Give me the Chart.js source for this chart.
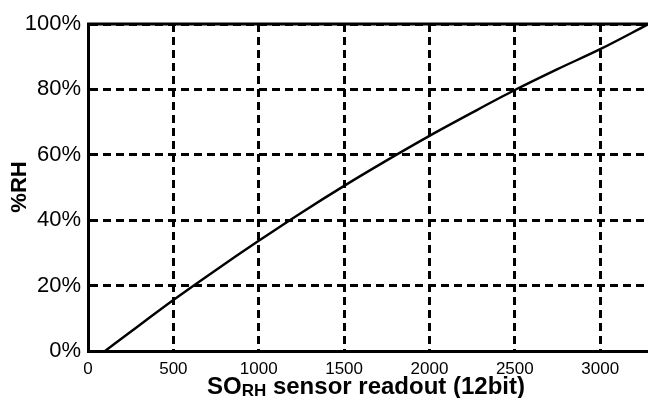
<!DOCTYPE html>
<html>
<head>
<meta charset="utf-8">
<script src="https://cdn.jsdelivr.net/npm/chart.js@4/dist/chart.umd.min.js"></script>
<style>
  html, body { margin: 0; padding: 0; background: #fff; }
  #wrap { width: 648px; height: 398px; }
</style>
</head>
<body>
<div id="wrap"><canvas id="rhchart"></canvas></div>
<script>
// readings taken off the curve (sensor readout -> %RH)
var readout = [100, 250, 500, 750, 1000, 1250, 1500, 1750, 2000, 2250, 2500, 2750, 3000, 3280];
var humidity = [0, 5.9, 15.6, 24.8, 33.7, 42.3, 50.5, 58.3, 65.8, 72.9, 79.8, 86.2, 92.3, 99.9];
var xTicks = [0, 500, 1000, 1500, 2000, 2500, 3000];
var yTicks = [0, 20, 40, 60, 80, 100];

var points = readout.map(function (v, i) { return { x: v, y: humidity[i] }; });

// titles drawn by hand so SO can carry the RH subscript
var titlePlugin = {
    id: 'titles',
    afterDraw: function (chart) {
        var ctx = chart.ctx;
        var area = chart.chartArea;
        ctx.save();
        ctx.fillStyle = '#000';
        ctx.strokeStyle = '#000';
        ctx.lineWidth = 3;
        ctx.beginPath();
        ctx.moveTo(area.left - 1, area.top);
        ctx.lineTo(area.right, area.top);
        ctx.stroke();

        var big = 'bold 24px Arial, "Liberation Sans", sans-serif';
        var small = 'bold 17px Arial, "Liberation Sans", sans-serif';
        var parts = [['SO', big, 0], ['RH', small, 2], [' sensor readout (12bit)', big, 0]];
        var total = 0;
        parts.forEach(function (p) { ctx.font = p[1]; total += ctx.measureText(p[0]).width; });
        var x = 366 - total / 2;
        var base = 394;
        ctx.textBaseline = 'alphabetic';
        parts.forEach(function (p) {
            ctx.font = p[1];
            ctx.fillText(p[0], x, base + p[2]);
            x += ctx.measureText(p[0]).width;
        });

        ctx.translate(20, 187);
        ctx.rotate(-Math.PI / 2);
        ctx.font = 'bold 22px Arial, "Liberation Sans", sans-serif';
        ctx.textAlign = 'center';
        ctx.textBaseline = 'middle';
        ctx.fillText('%RH', 0, 0);
        ctx.restore();
    }
};

var ctx = document.getElementById('rhchart').getContext('2d');
var rhchart = new Chart(ctx, {
    type: 'scatter',
    data: {
        datasets: [{
            data: points,
            showLine: true,
            borderColor: '#000',
            borderWidth: 2.4,
            pointRadius: 0,
            cubicInterpolationMode: 'monotone'
        }]
    },
    options: {
        responsive: true,
        maintainAspectRatio: false,
        animation: false,
        layout: { padding: { top: 24, right: 0, left: 0, bottom: 0 } },
        plugins: { legend: { display: false }, tooltip: { enabled: false } },
        scales: {
            x: {
                type: 'linear',
                min: 0,
                max: 3280,
                afterFit: function (s) { s.height = 47; },
                afterBuildTicks: function (s) { s.ticks = xTicks.map(function (v) { return { value: v }; }); },
                ticks: {
                    includeBounds: false,
                    color: '#000',
                    padding: 8,
                    maxRotation: 0,
                    font: { family: 'Arial, "Liberation Sans", sans-serif', size: 17 },
                    callback: function (v) { return String(v); }
                },
                grid: { color: '#000', lineWidth: 3, drawTicks: false },
                border: { color: '#000', width: 3, dash: [8, 5] }
            },
            y: {
                min: 0,
                max: 100,
                afterFit: function (s) { s.width = 88; },
                afterBuildTicks: function (s) { s.ticks = yTicks.map(function (v) { return { value: v }; }); },
                ticks: {
                    color: '#000',
                    padding: 7,
                    font: { family: 'Arial, "Liberation Sans", sans-serif', size: 22 },
                    callback: function (v) { return v + '%'; }
                },
                grid: { color: '#000', lineWidth: 3, drawTicks: false },
                border: { color: '#000', width: 3, dash: [8, 5] }
            }
        }
    },
    plugins: [titlePlugin]
});
</script>
</body>
</html>
